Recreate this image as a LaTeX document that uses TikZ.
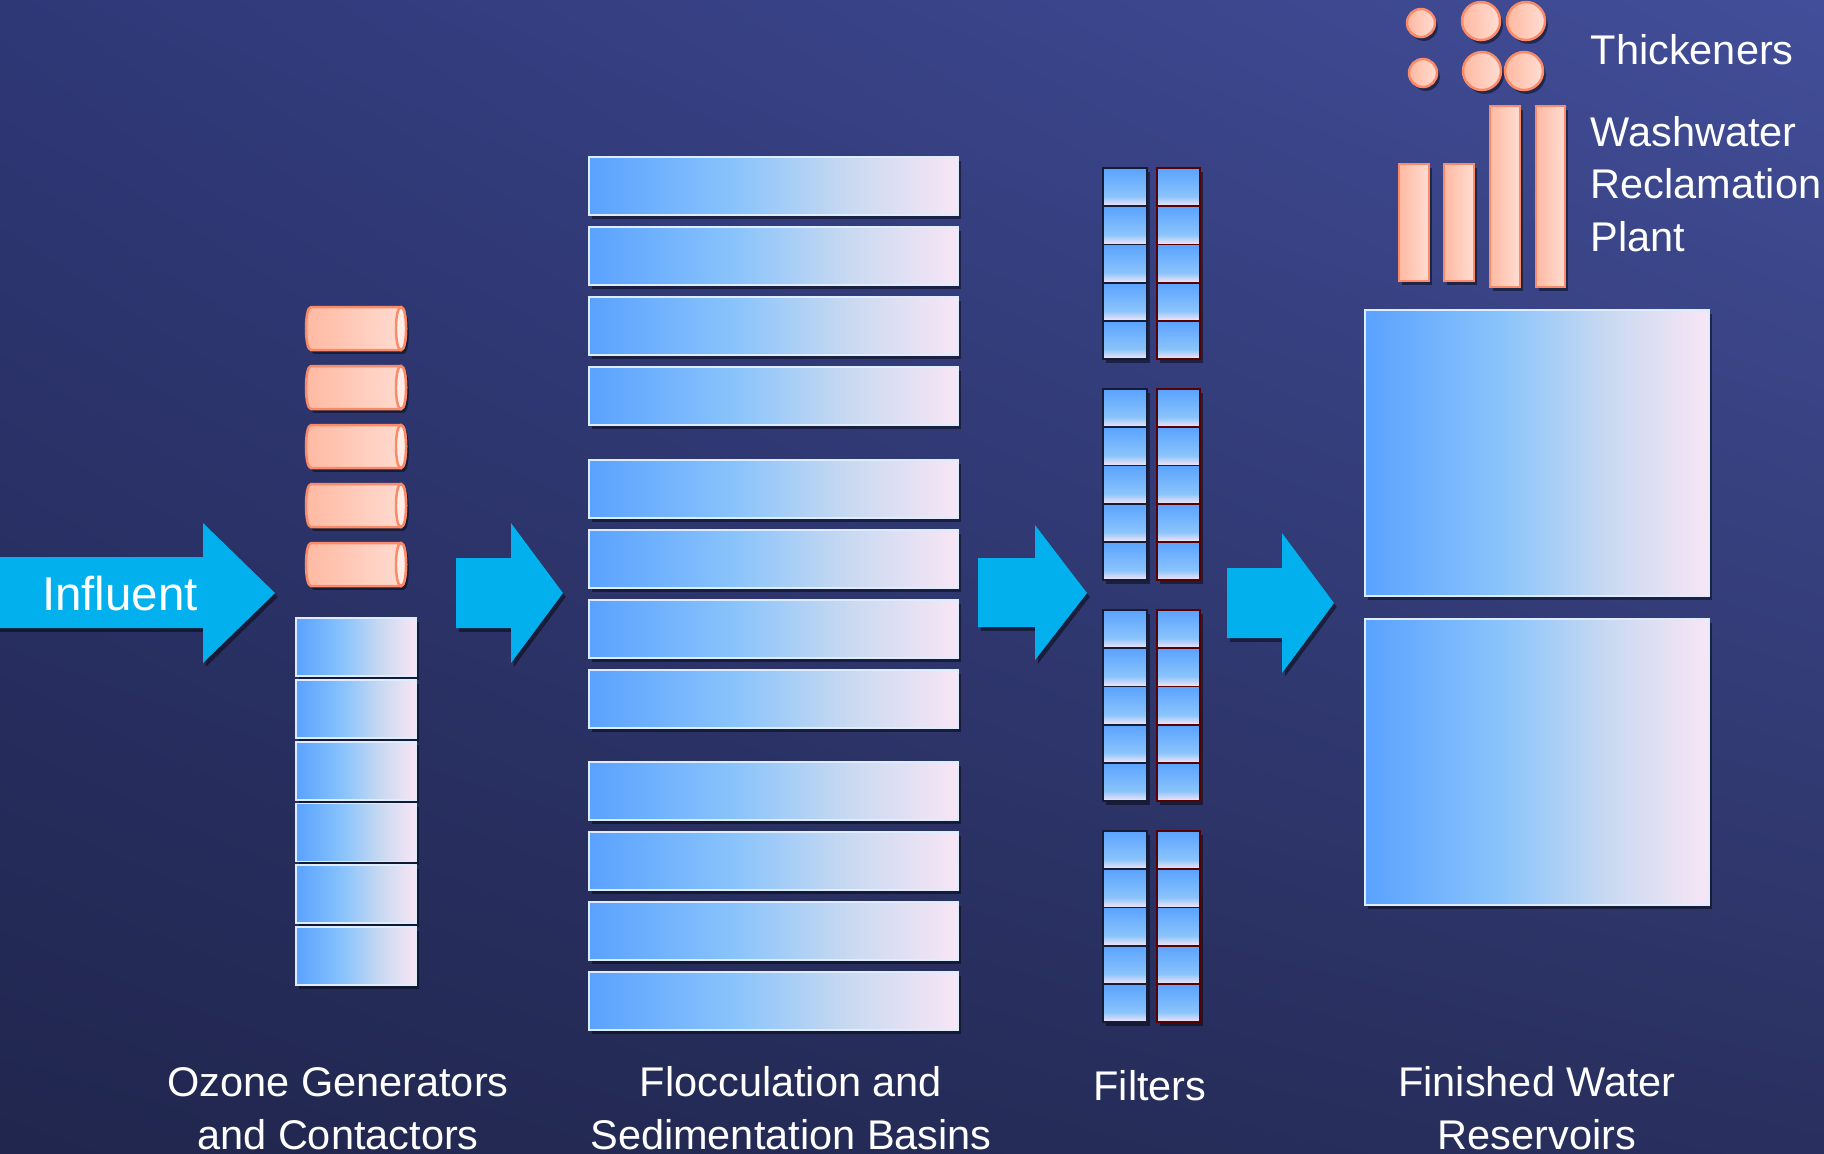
\documentclass[tikz,border=0pt]{standalone}
\usepackage{fontspec}
\setmainfont{Liberation Sans}
\usetikzlibrary{shadows,shadings}
\definecolor{bgUL}{HTML}{2F3877}
\definecolor{bgUR}{HTML}{424E99}
\definecolor{bgLL}{HTML}{20264D}
\definecolor{bgLR}{HTML}{29305F}
\definecolor{bA}{HTML}{5AA2FF}
\definecolor{bB}{HTML}{8AC4FB}
\definecolor{bC}{HTML}{C8D9F1}
\definecolor{bD}{HTML}{F8E6F5}
\definecolor{sA}{HTML}{FFB9A1}
\definecolor{sB}{HTML}{FFDDD3}
\definecolor{sEdge}{HTML}{FA8A68}
\definecolor{sEnd}{HTML}{FFEDE7}
\definecolor{arr}{HTML}{02B0EE}
\pgfdeclarehorizontalshading{blueh}{100bp}{color(0bp)=(bA); color(25bp)=(bA); color(45bp)=(bB); color(60bp)=(bC); color(75bp)=(bD); color(100bp)=(bD)}
\pgfdeclareverticalshading{bluev}{100bp}{color(0bp)=(bD); color(25bp)=(bD); color(38bp)=(bB); color(75bp)=(bA); color(100bp)=(bA)}
\begin{document}
\begin{tikzpicture}[x=0.01cm,y=-0.01cm,
  shd/.style={drop shadow={shadow xshift=0.8pt, shadow yshift=-1.1pt, fill=black, opacity=0.45}},
  bluebox/.style={shd, shade, shading=blueh, draw=white!80!bA, line width=0.5pt},
  filtcell/.style={shd, shade, shading=bluev, draw=bgLL!70!black, line width=0.5pt},
  salmon/.style={shd, left color=sA, right color=sB, draw=sEdge, line width=0.7pt},
  blockarrow/.style={shd, fill=arr},
  lbl/.style={text=white, font=\fontsize{11.8}{14.8}\selectfont, inner sep=0pt, align=center}]
\useasboundingbox (0,0) rectangle (1824,1153);
\clip (0,0) rectangle (1824,1153);
\shade[upper left=bgUL, upper right=bgUR, lower left=bgLL, lower right=bgLR] (0,0) rectangle (1824,1153);

% block arrows
\path[blockarrow] (-10,557) -- (203,557) -- (203,523) -- (275,593) -- (203,663) -- (203,628) -- (-10,628) -- cycle;
\node[text=white, font=\fontsize{13.5}{16}\selectfont, inner sep=0pt, anchor=base] (infl) at (120,610) {Influent};
\path[blockarrow] (456,558) -- (511,558) -- (511,523) -- (563,593) -- (511,663) -- (511,628) -- (456,628) -- cycle;
\path[blockarrow] (978,558) -- (1035,558) -- (1035,525) -- (1087,593) -- (1035,660) -- (1035,627) -- (978,627) -- cycle;
\path[blockarrow] (1227,568) -- (1282,568) -- (1282,533) -- (1334,603) -- (1282,673) -- (1282,638) -- (1227,638) -- cycle;

% ozone generators (cylinders)
\foreach \t [evaluate=\t as \b using \t+43] in {307,366,425,484,543}{
  \path[salmon] (401,\t) -- (311,\t) .. controls (304.3,\t) and (304.3,\b) .. (311,\b) -- (401,\b)
     .. controls (407.7,\b) and (407.7,\t) .. (401,\t) -- cycle;
  \path[fill=sEnd, draw=sEdge, line width=0.7pt] (401,\t) .. controls (407.7,\t) and (407.7,\b) .. (401,\b)
     .. controls (394.3,\b) and (394.3,\t) .. (401,\t) -- cycle;
}
% ozone contactors
\foreach \i in {0,...,5}{
  \path[bluebox] (296,618+61.8*\i) rectangle (416,676+61.8*\i);
}
% flocculation and sedimentation basins
\foreach \t in {157,227,297,367,460,530,600,670,762,832,902,972}{
  \path[bluebox] (589,\t) rectangle (958,\t+58);
}
% filters
\foreach \g in {168,389,610,831}{
  \foreach \k in {0,...,4}{
    \path[filtcell] (1103,\g+38.2*\k) rectangle (1147,\g+38.2*\k+38.2);
    \path[filtcell, draw=red!35!black] (1157,\g+38.2*\k) rectangle (1200,\g+38.2*\k+38.2);
  }
}
% finished water reservoirs
\path[bluebox] (1365,310) rectangle (1709,596);
\path[bluebox] (1365,619) rectangle (1709,905);

% thickeners
\path[salmon] (1421,23) circle[radius=0.14cm];
\path[salmon] (1423,73) circle[radius=0.14cm];
\path[salmon] (1481,21) circle[radius=0.19cm];
\path[salmon] (1526,21) circle[radius=0.19cm];
\path[salmon] (1482,71) circle[radius=0.19cm];
\path[salmon] (1524,71) circle[radius=0.19cm];
% washwater reclamation plant
\path[salmon] (1399,164) rectangle (1429,281);
\path[salmon] (1444,164) rectangle (1474,281);
\path[salmon] (1490,106) rectangle (1520,287);
\path[salmon] (1536,106) rectangle (1565,287);

% labels (anchor base = baseline of the last line)
\node[lbl, anchor=base west, align=left] (thk) at (1590,64) {Thickeners};
\node[lbl, anchor=base west, align=left] (wrp) at (1590,251) {Washwater\\Reclamation\\Plant};
\node[lbl, anchor=base] (ozl) at (338,1149) {Ozone Generators\\and Contactors};
\node[lbl, anchor=base] (fsl) at (791,1149) {Flocculation and\\Sedimentation Basins};
\node[lbl, anchor=base] (fil) at (1150,1100) {Filters};
\node[lbl, anchor=base] (fwl) at (1537,1149) {Finished Water\\Reservoirs};
\end{tikzpicture}
\end{document}
